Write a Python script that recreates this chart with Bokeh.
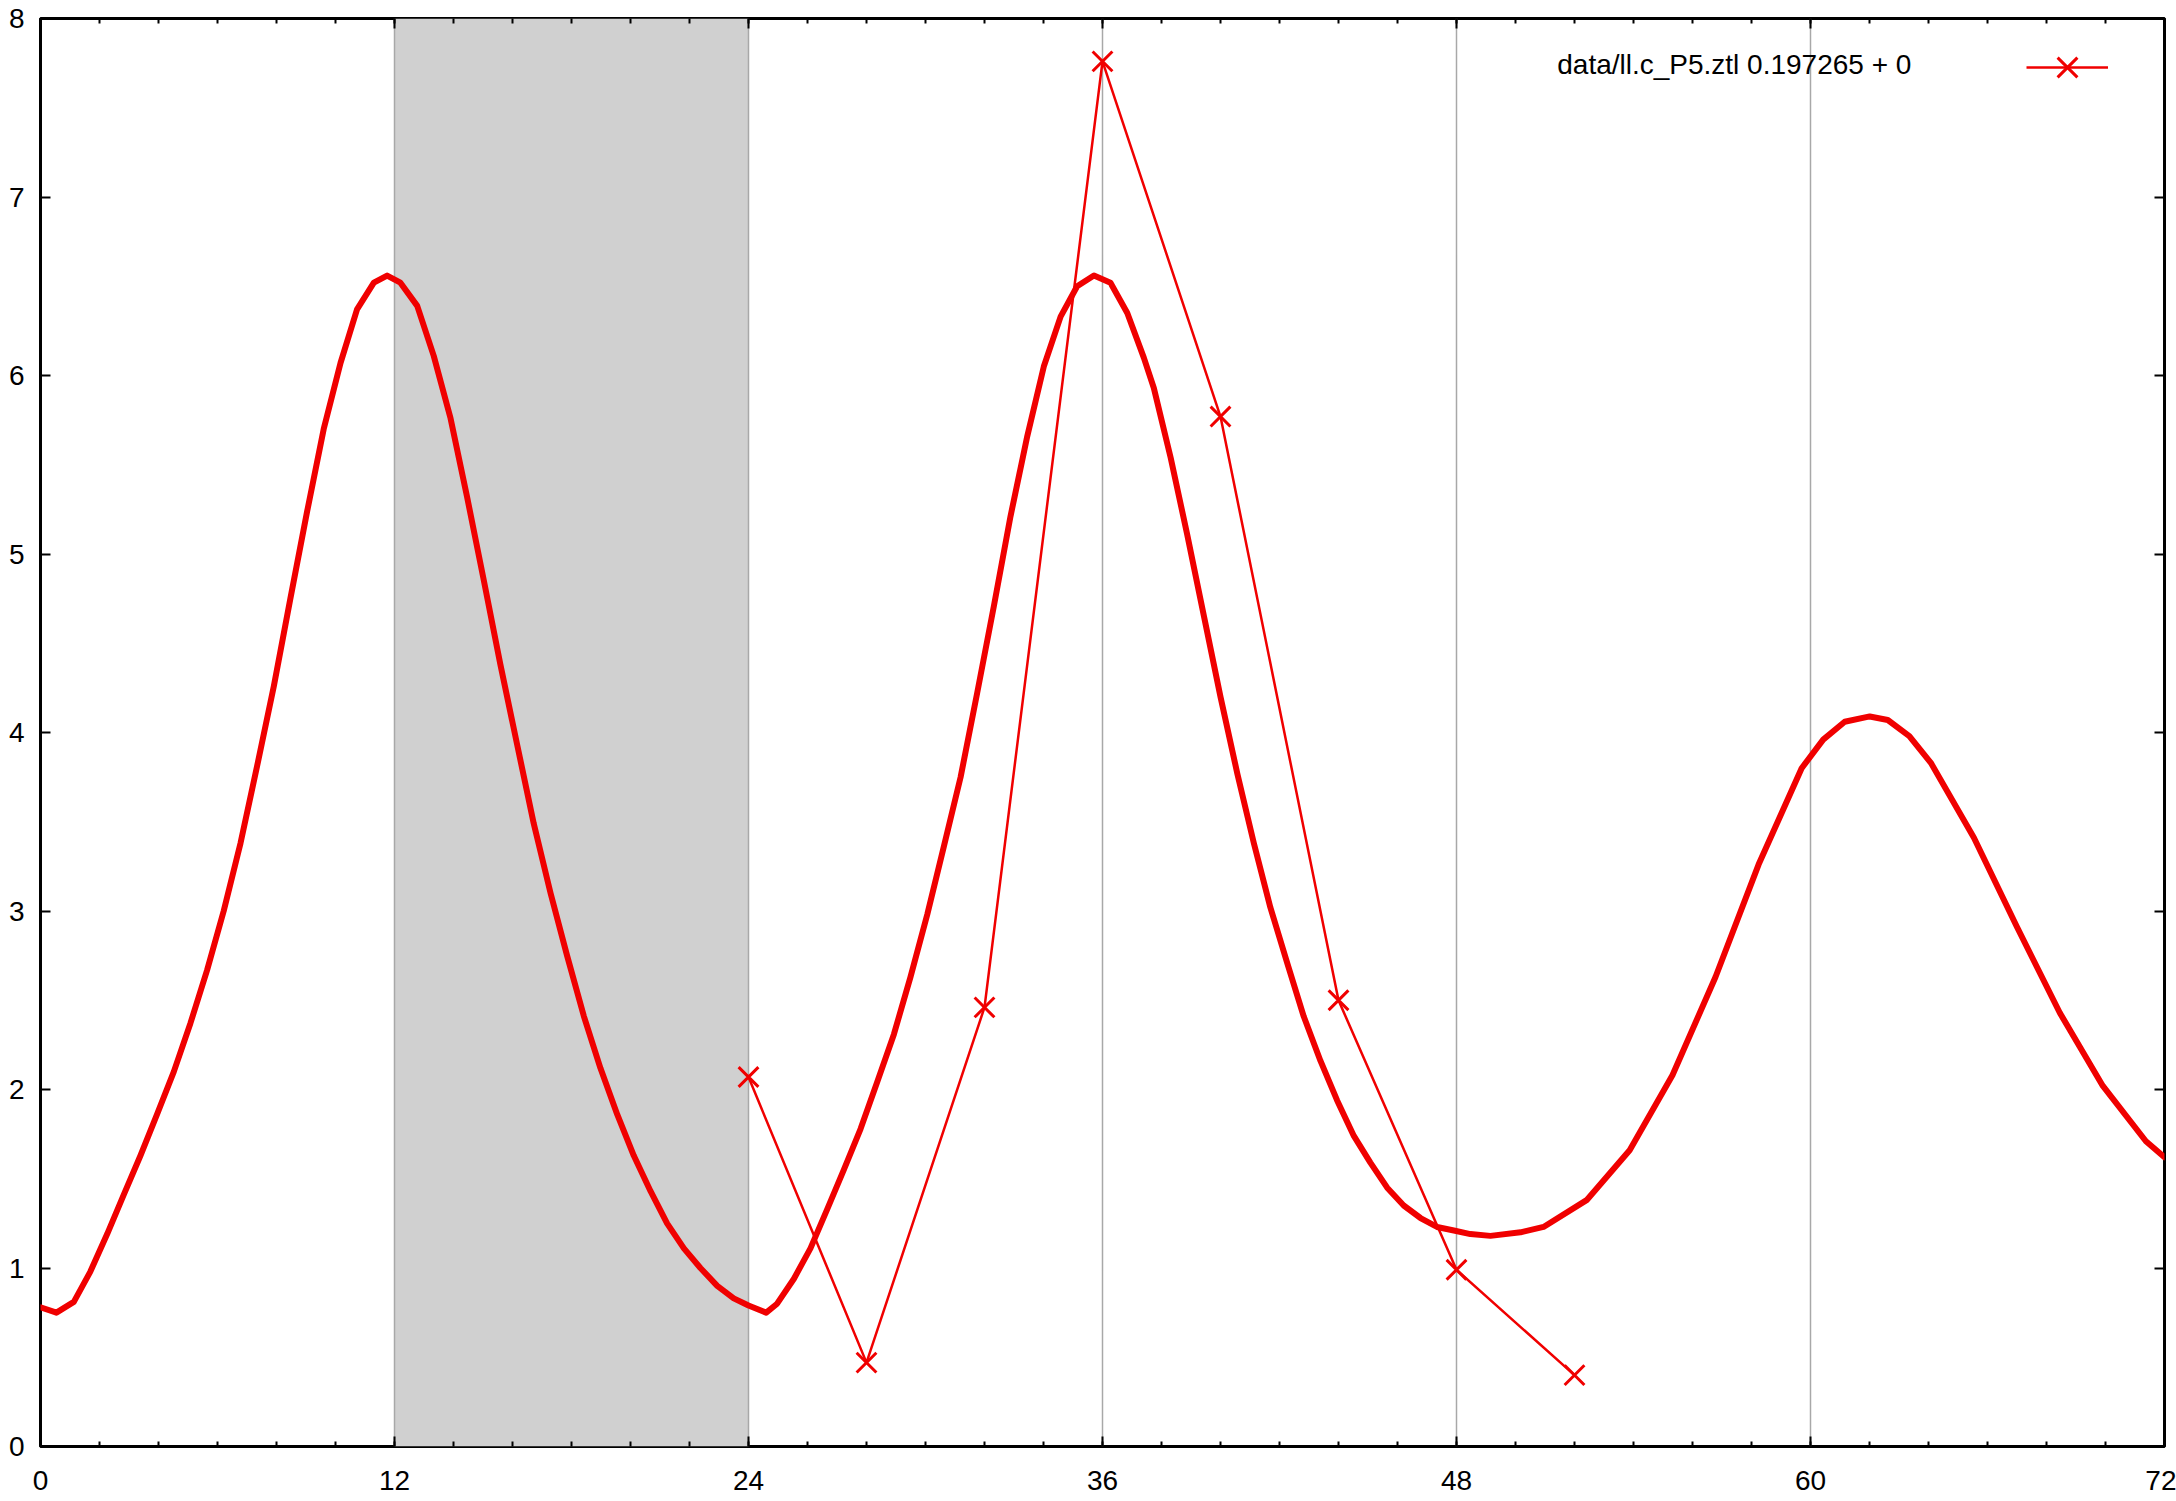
from bokeh.plotting import figure
from bokeh.models import (Range1d, FixedTicker, LinearAxis, BoxAnnotation, Label,
                          Legend, LegendItem, ColumnDataSource)
from bokeh.embed import file_html
from bokeh.resources import INLINE

# ---- data ----
fit_t = [0, 0.54, 1.13, 1.69, 2.26, 2.82, 3.39, 3.95, 4.52, 5.08, 5.65, 6.21, 6.78, 7.34,
         7.91, 8.47, 9.04, 9.60, 10.17, 10.73, 11.30, 11.75,
         12.20, 12.77, 13.33, 13.90, 14.46, 15.03, 15.59, 16.16, 16.72, 17.29, 17.85, 18.42,
         18.98, 19.55, 20.11, 20.68, 21.24, 21.81, 22.37, 22.94, 23.50, 24.00, 24.60,
         24.97, 25.54, 26.10, 26.67, 27.23, 27.80, 28.36, 28.93, 29.49, 30.06, 30.62, 31.19,
         31.75, 32.32, 32.88, 33.45, 34.01, 34.58, 35.14, 35.71, 36.27, 36.84, 37.40,
         37.74, 38.31, 38.87, 39.44, 40.00, 40.57, 41.13, 41.69, 42.26, 42.82, 43.39, 43.95,
         44.52, 45.08, 45.65, 46.21, 46.78, 47.34, 47.91, 48.47, 49.15, 50.17,
         50.95, 52.41, 53.87, 55.32, 56.78, 58.24, 59.70, 60.43, 61.16, 62.01, 62.62, 63.35,
         64.08, 65.54, 67.00, 68.45, 69.91, 71.37, 72.00]
fit_v = [0.78, 0.75, 0.81, 0.98, 1.19, 1.41, 1.63, 1.86, 2.10, 2.37, 2.67, 3.00, 3.38, 3.81,
         4.26, 4.75, 5.24, 5.70, 6.07, 6.37, 6.52, 6.56,
         6.52, 6.39, 6.11, 5.76, 5.32, 4.85, 4.38, 3.93, 3.49, 3.10, 2.75, 2.41,
         2.12, 1.86, 1.63, 1.43, 1.25, 1.11, 1.00, 0.90, 0.83, 0.79, 0.75,
         0.80, 0.94, 1.11, 1.33, 1.55, 1.78, 2.04, 2.31, 2.63, 2.98, 3.36, 3.75,
         4.22, 4.71, 5.21, 5.66, 6.05, 6.33, 6.50, 6.56, 6.52, 6.35, 6.10,
         5.93, 5.54, 5.11, 4.65, 4.20, 3.77, 3.38, 3.02, 2.71, 2.41, 2.16, 1.94,
         1.74, 1.59, 1.45, 1.35, 1.28, 1.23, 1.21, 1.19, 1.18, 1.20,
         1.23, 1.38, 1.66, 2.08, 2.63, 3.26, 3.80, 3.96, 4.06, 4.09, 4.07, 3.98,
         3.83, 3.41, 2.91, 2.43, 2.02, 1.71, 1.62]

obs_t = [24, 28, 32, 36, 40, 44, 48, 52]
obs_v = [2.07, 0.47, 2.46, 7.76, 5.77, 2.50, 0.99, 0.40]

night_start = [12]
night_end = [24]

x_major = [0, 12, 24, 36, 48, 60, 72]
x_minor = list(range(0, 73, 2))
y_major = [0, 1, 2, 3, 4, 5, 6, 7, 8]
grid_x = [12, 24, 36, 48, 60]

legend_text = "data/ll.c_P5.ztl 0.197265 + 0"

RED = "#f00000"
FONT = "Liberation Sans"
FS = "28px"

p = figure(width=2176, height=1501, output_backend="svg", toolbar_location=None,
           x_range=Range1d(0, 72), y_range=Range1d(0, 8),
           min_border_left=40, min_border_right=12, min_border_top=18, min_border_bottom=55)
p.background_fill_color = "white"
p.border_fill_color = "white"
p.outline_line_color = "black"
p.outline_line_width = 3

# night band
for s, e in zip(night_start, night_end):
    p.add_layout(BoxAnnotation(left=s, right=e, fill_color="#d0d0d0", fill_alpha=1.0,
                               line_color=None, level="image"))

# grid
p.xgrid.ticker = FixedTicker(ticks=grid_x)
p.xgrid.grid_line_color = "#a8a8a8"
p.xgrid.grid_line_width = 1.5
p.ygrid.visible = False


def style_axis(ax, labels=True):
    ax.axis_line_color = None
    ax.major_tick_in = 10
    ax.major_tick_out = 0
    ax.minor_tick_in = 5
    ax.minor_tick_out = 0
    ax.major_tick_line_width = 2
    ax.minor_tick_line_width = 2
    ax.major_tick_line_color = "black"
    ax.minor_tick_line_color = "black"
    ax.major_label_text_font = FONT
    if labels:
        ax.major_label_text_font_size = FS
        ax.major_label_text_color = "black"
    else:
        ax.major_label_text_font_size = "1px"
        ax.major_label_text_color = None
        ax.major_label_standoff = 0


xb = p.xaxis[0]
xb.ticker = FixedTicker(ticks=x_major, minor_ticks=x_minor)
style_axis(xb)
xb.major_label_standoff = 24

yl = p.yaxis[0]
yl.ticker = FixedTicker(ticks=y_major, minor_ticks=[])
style_axis(yl)
yl.major_label_standoff = 16

xt = LinearAxis(ticker=FixedTicker(ticks=x_major, minor_ticks=x_minor))
style_axis(xt, labels=False)
p.add_layout(xt, "above")

yr = LinearAxis(ticker=FixedTicker(ticks=y_major, minor_ticks=[]))
style_axis(yr, labels=False)
p.add_layout(yr, "right")

# fitted curve
p.line(fit_t, fit_v, line_color=RED, line_width=6, line_join="round", line_cap="round")

# observed series
src = ColumnDataSource(dict(t=obs_t, v=obs_v))
ln = p.line("t", "v", source=src, line_color=RED, line_width=2.5)
mk = p.scatter("t", "v", source=src, marker="x", size=28, line_color=RED, line_width=3)

# legend: text label + sample glyph (text sits left of the sample, as in the original)
p.add_layout(Label(x=63.42, y=7.74, text=legend_text, text_align="right",
                   text_baseline="middle", text_font=FONT, text_font_size=FS,
                   text_color="black"))
leg = Legend(items=[LegendItem(label=" ", renderers=[ln, mk])], location=(1986, 1344),
             glyph_width=82, glyph_height=70, label_width=0, label_standoff=0,
             padding=0, margin=0, spacing=0, border_line_color=None,
             background_fill_alpha=0, label_text_font_size="1px")
p.add_layout(leg)

open("out.html", "w").write(file_html(p, INLINE))
